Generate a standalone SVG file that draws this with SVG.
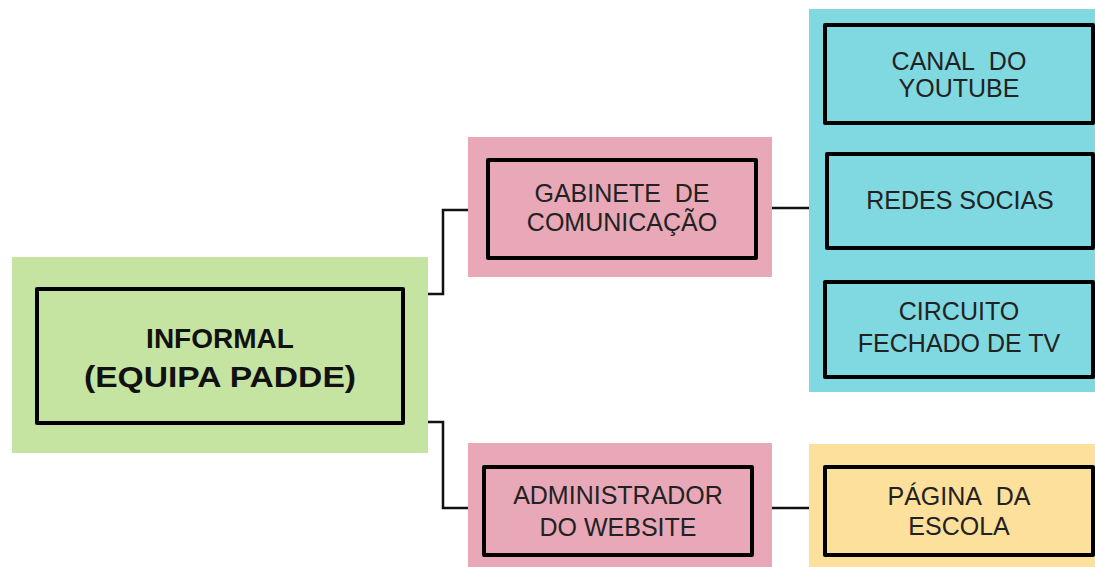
<svg xmlns="http://www.w3.org/2000/svg" width="1095" height="567" viewBox="0 0 1095 567">
<style>
.bg-green{fill:#c5e4a1}
.bg-pink{fill:#e8a8b8}
.bg-cyan{fill:#80d8e0}
.bg-yellow{fill:#fde09b}
.box{fill:none;stroke:#000;stroke-width:4;stroke-linejoin:round}
.t{font-family:"Liberation Sans",Arial,sans-serif;font-size:25px;fill:#222;text-anchor:middle}
.tb{font-family:"Liberation Sans",Arial,sans-serif;font-size:28px;font-weight:bold;fill:#111;text-anchor:middle}
.conn{fill:none;stroke:#111;stroke-width:2.5}
</style>
<rect width="1095" height="567" fill="#fff"/>
<g id="connectors">
<polyline class="conn" points="428,294 443,294 443,210 468,210"/>
<polyline class="conn" points="428,422 443,422 443,508 468,508"/>
<line class="conn" x1="772" y1="208" x2="809" y2="208"/>
<line class="conn" x1="772" y1="508" x2="809" y2="508"/>
</g>
<g id="node-informal">
<rect class="bg-green" x="12" y="257" width="416" height="196"/>
<rect class="box" x="37" y="289" width="366" height="134"/>
<text class="tb" x="220" y="348">INFORMAL</text>
<text class="tb" x="220" y="387" style="font-size:30px" textLength="272" lengthAdjust="spacingAndGlyphs">(EQUIPA PADDE)</text>
</g>
<g id="node-gabinete">
<rect class="bg-pink" x="468" y="137" width="304" height="140"/>
<rect class="box" x="488" y="160" width="268" height="98"/>
<text class="t" x="622" y="202">GABINETE&#160; DE</text>
<text class="t" x="622" y="231">COMUNICAÇÃO</text>
</g>
<g id="node-admin">
<rect class="bg-pink" x="468" y="443" width="304" height="124"/>
<rect class="box" x="484" y="467" width="268" height="88"/>
<text class="t" x="618" y="504">ADMINISTRADOR</text>
<text class="t" x="618" y="536">DO WEBSITE</text>
</g>
<g id="group-cyan">
<rect class="bg-cyan" x="809" y="9" width="286" height="383"/>
</g>
<g id="node-youtube">
<rect class="box" x="825" y="25" width="268" height="98"/>
<text class="t" x="959" y="70">CANAL&#160; DO</text>
<text class="t" x="959" y="97">YOUTUBE</text>
</g>
<g id="node-redes">
<rect class="box" x="827" y="154" width="266" height="94"/>
<text class="t" x="960" y="209">REDES SOCIAS</text>
</g>
<g id="node-circuito">
<rect class="box" x="825" y="282" width="268" height="95"/>
<text class="t" x="959" y="320">CIRCUITO</text>
<text class="t" x="959" y="352">FECHADO DE TV</text>
</g>
<g id="node-pagina">
<rect class="bg-yellow" x="809" y="444" width="286" height="123"/>
<rect class="box" x="825" y="467" width="268" height="88"/>
<text class="t" x="959" y="505">PÁGINA&#160; DA</text>
<text class="t" x="959" y="535">ESCOLA</text>
</g>
</svg>
